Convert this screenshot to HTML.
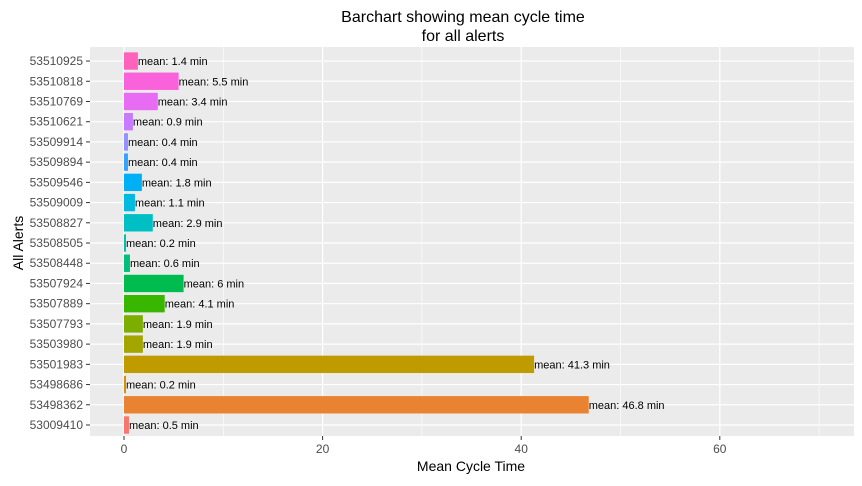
<!DOCTYPE html>
<html><head><meta charset="utf-8"><style>
body{margin:0;background:#fff;font-family:"Liberation Sans",Arial,sans-serif;}
</style></head><body>
<svg id="chart" width="862" height="481" xmlns="http://www.w3.org/2000/svg">
<rect width="862" height="481" fill="#fff"/>
<text x="463" y="22" text-anchor="middle" font-size="16">Barchart showing mean cycle time</text>
<text x="463" y="41" text-anchor="middle" font-size="16">for all alerts</text>
<rect x="90" y="47" width="764" height="389" fill="#EBEBEB"/>
<g id="grid"></g><g id="bars"></g><g id="labels"></g><g id="yticks"></g><g id="xticks"></g>
<text x="471" y="471" text-anchor="middle" font-size="14">Mean Cycle Time</text>
<text transform="translate(23,243) rotate(-90)" text-anchor="middle" font-size="14">All Alerts</text>
</svg>
<script>
const categories=["53009410","53498362","53498686","53501983","53503980","53507793","53507889","53507924","53508448","53508505","53508827","53509009","53509546","53509894","53509914","53510621","53510769","53510818","53510925"];
const values=[0.5,46.8,0.2,41.3,1.9,1.9,4.1,6,0.6,0.2,2.9,1.1,1.8,0.4,0.4,0.9,3.4,5.5,1.4];
const xTicks=[0,20,40,60];
const xMinor=[10,30,50,70];
const colors=["#F8766D","#EA8331","#D89000","#C09B00","#A3A500","#7CAE00","#39B600","#00BB4E","#00BF7D","#00C1A3","#00BFC4","#00BAE0","#00B0F6","#35A2FF","#9590FF","#C77CFF","#E76BF3","#FA62DB","#FF62BC"];
const NS="http://www.w3.org/2000/svg";
const x=v=>124+v*9.93;
const step=20.22;
const y=i=>425-i*step;
function mk(tag,attrs,parent){const e=document.createElementNS(NS,tag);for(const k in attrs)e.setAttribute(k,attrs[k]);document.getElementById(parent).appendChild(e);return e;}
xMinor.forEach(v=>{const l=mk('line',{x1:x(v),x2:x(v),y1:47,y2:436,stroke:'#fff','stroke-width':0.6},'grid');

});
xTicks.forEach(v=>{const l=mk('line',{x1:x(v),x2:x(v),y1:47,y2:436,stroke:'#fff','stroke-width':1.2},'grid');


const tk=mk('line',{x1:x(v),x2:x(v),y1:436,y2:440,stroke:'#333','stroke-width':1},'xticks');


const t=mk('text',{x:x(v),y:453,'text-anchor':'middle','font-size':12,fill:'#4D4D4D'},'xticks');t.textContent=v;

});
categories.forEach((c,i)=>{const l=mk('line',{x1:90,x2:854,y1:y(i),y2:y(i),stroke:'#fff','stroke-width':1.2},'grid');


const tk=mk('line',{x1:86,x2:90,y1:y(i),y2:y(i),stroke:'#333','stroke-width':1},'yticks');


const t=mk('text',{x:83,y:y(i)+4,'text-anchor':'end','font-size':12,fill:'#4D4D4D'},'yticks');t.textContent=c;


const bh=step*0.86;
const r=mk('rect',{x:x(0),y:y(i)-bh/2,width:Math.max(0.5,x(values[i])-x(0)),height:bh,fill:colors[i]},'bars');


const lt=mk('text',{x:x(values[i]),y:y(i)+4,'font-size':11,fill:'#000'},'labels');lt.textContent='mean: '+values[i]+' min';

});
</script>
</body></html>
